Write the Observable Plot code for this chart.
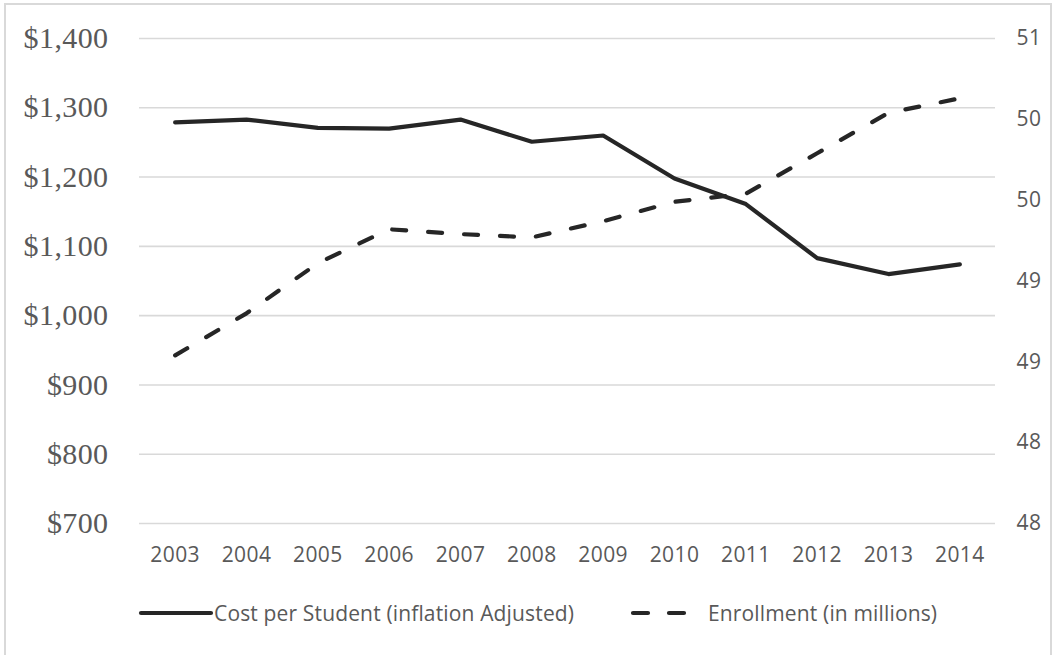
<!DOCTYPE html>
<html>
<head>
<meta charset="utf-8">
<script src="https://cdn.jsdelivr.net/npm/d3@7"></script>
<script src="https://cdn.jsdelivr.net/npm/@observablehq/plot@0.6"></script>
<style>
  html, body { margin: 0; padding: 0; background: #fff; }
  #wrap { position: relative; width: 1062px; height: 655px; overflow: hidden; }
  #frame { position: absolute; left: 4px; top: 3px; width: 1048px; height: 700px; border: 2px solid #d9d9d9; box-sizing: border-box; }
  #chart { position: absolute; left: 0; top: 0; }
  #chart svg text { letter-spacing: 0.4px; }
  .legend { position: absolute; top: 600px; height: 26px; font-family: "Open Sans", sans-serif; font-size: 21px; letter-spacing: 0.15px; color: #595959; display: flex; align-items: center; white-space: nowrap; }
  .legend svg { display: block; }
</style>
</head>
<body>
<div id="wrap">
  <div id="frame"></div>
  <div id="chart"></div>
  <div class="legend" id="leg1" style="left:138px;"></div>
  <div class="legend" id="leg2" style="left:630px;"></div>
</div>
<script>
const years = [2003, 2004, 2005, 2006, 2007, 2008, 2009, 2010, 2011, 2012, 2013, 2014];
const costPerStudent = [1279, 1283, 1271, 1270, 1283, 1251, 1260, 1198, 1161, 1083, 1060, 1074];
const enrollment = [48.54, 48.80, 49.11, 49.32, 49.29, 49.27, 49.37, 49.49, 49.54, 49.79, 50.04, 50.13];
const leftTicks = [700, 800, 900, 1000, 1100, 1200, 1300, 1400];
const rightTicks = [47.5, 48, 48.5, 49, 49.5, 50, 50.5];
const rightTickLabels = ["48", "48", "49", "49", "50", "50", "51"];
const seriesNames = ["Cost per Student (inflation Adjusted)", "Enrollment (in millions)"];

const leftDomain = [700, 1400];
const rightDomain = [47.5, 50.5];
const toLeft = v => leftDomain[0] + (v - rightDomain[0]) / (rightDomain[1] - rightDomain[0]) * (leftDomain[1] - leftDomain[0]);

const data = years.map((y, i) => ({year: y, cost: costPerStudent[i], enroll: enrollment[i]}));
const ink = "#262626";
const txt = "#595959";

const chart = Plot.plot({
  width: 1062,
  height: 575,
  marginTop: 38,
  marginBottom: 52,
  marginLeft: 139,
  marginRight: 67,
  x: {type: "linear", domain: [years[0] - 0.5, years[years.length - 1] + 0.5]},
  y: {domain: leftDomain},
  marks: [
    Plot.ruleY(leftTicks, {stroke: "#d9d9d9", strokeWidth: 1.6}),
    Plot.axisY({
      anchor: "left", ticks: leftTicks, tickSize: 0, tickPadding: 31,
      tickFormat: d => "$" + d3.format(",")(d),
      fontFamily: "'Liberation Serif', 'Times New Roman', serif", fontSize: 30, fill: txt, label: null
    }),
    Plot.axisY(rightTicks.map(toLeft), {
      anchor: "right", tickSize: 0, tickPadding: 21,
      tickFormat: (d, i) => rightTickLabels[i],
      fontFamily: "'Open Sans', sans-serif", fontSize: 21, fill: txt, label: null
    }),
    Plot.axisX({
      ticks: years, tickSize: 0, tickPadding: 24, tickFormat: d => String(d),
      fontFamily: "'Open Sans', sans-serif", fontSize: 21, fill: txt, label: null
    }),
    Plot.line(data, {x: "year", y: "cost", stroke: ink, strokeWidth: 4.2, strokeLinecap: "round", strokeLinejoin: "round"}),
    Plot.line(data, {x: "year", y: d => toLeft(d.enroll), stroke: ink, strokeWidth: 4.2, strokeLinecap: "round", strokeLinejoin: "round", strokeDasharray: "14 22"})
  ]
});
document.getElementById("chart").appendChild(chart);

function swatch(dashed) {
  const ns = "http://www.w3.org/2000/svg";
  const svg = document.createElementNS(ns, "svg");
  svg.setAttribute("width", dashed ? 62 : 76);
  svg.setAttribute("height", 10);
  const l = document.createElementNS(ns, "line");
  l.setAttribute("x1", 3); l.setAttribute("x2", dashed ? 58 : 73);
  l.setAttribute("y1", 5); l.setAttribute("y2", 5);
  l.setAttribute("stroke", ink); l.setAttribute("stroke-width", 4.2);
  l.setAttribute("stroke-linecap", "round");
  if (dashed) l.setAttribute("stroke-dasharray", "15 21");
  svg.appendChild(l);
  return svg;
}
const l1 = document.getElementById("leg1");
l1.appendChild(swatch(false));
const t1 = document.createElement("span"); t1.textContent = seriesNames[0]; l1.appendChild(t1);
const l2 = document.getElementById("leg2");
l2.appendChild(swatch(true));
const t2 = document.createElement("span"); t2.textContent = seriesNames[1]; t2.style.marginLeft = "16px"; l2.appendChild(t2);
</script>
</body>
</html>
